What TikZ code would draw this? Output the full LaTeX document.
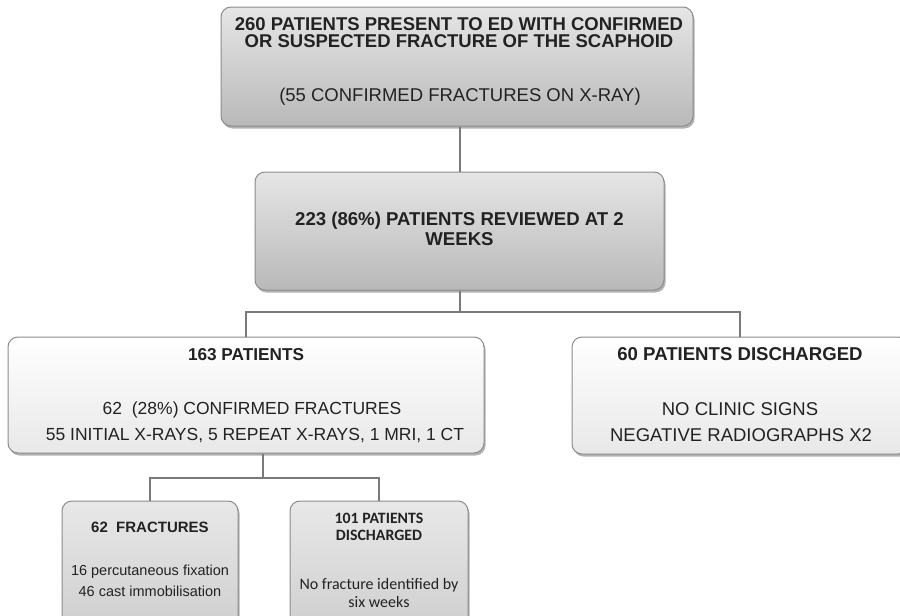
\documentclass[tikz,border=0pt]{standalone}
\usepackage{fontspec}
\setmainfont{Liberation Sans}
\newfontfamily\carl{Carlito}
\usetikzlibrary{shadows}
\definecolor{boxline}{HTML}{8C8C8C}
\definecolor{connc}{HTML}{7A7A7A}
\definecolor{textc}{HTML}{222222}
\begin{document}
\begin{tikzpicture}[x=1pt,y=-1pt,
  box/.style={draw=boxline, line width=1pt, rounded corners=10pt, inner sep=0pt,
    drop shadow={shadow xshift=1.5pt, shadow yshift=-2.5pt, opacity=0.3, fill=black}},
  darkbox/.style={box, top color=gray!20, bottom color=gray!55},
  lightbox/.style={box, top color=white, bottom color=gray!18},
  midbox/.style={box, top color=gray!18, bottom color=gray!38},
  conn/.style={draw=connc, line width=2pt},
  txt/.style={inner sep=0pt, text=textc, align=center},
  hbig/.style={txt, font=\fontsize{18.5}{19}\selectfont\bfseries},
  hmid/.style={txt, font=\fontsize{18.6}{19}\selectfont\bfseries},
  hpat/.style={txt, font=\fontsize{17.2}{18}\selectfont\bfseries},
  rmid/.style={txt, font=\fontsize{18.5}{19}\selectfont},
  rpat/.style={txt, font=\fontsize{17.5}{18}\selectfont},
  hsmall/.style={txt, font=\fontsize{15}{16}\selectfont\bfseries},
  rsmall/.style={txt, font=\fontsize{14.5}{15}\selectfont},
  chead/.style={txt, font=\fontsize{15.8}{16}\selectfont\carl\bfseries},
  cbody/.style={txt, font=\fontsize{16}{19}\selectfont\carl},
]
\useasboundingbox (0,0) rectangle (900,616);
\fill[white] (0,0) rectangle (900,616);

% boxes
\node[darkbox, minimum width=472pt, minimum height=119pt] (top) at (457,66.5) {};
\node[darkbox, minimum width=409pt, minimum height=118pt] (rev) at (459.5,231) {};
\node[lightbox, minimum width=476pt, minimum height=116pt] (pat) at (246,395) {};
\node[lightbox, minimum width=336pt, minimum height=117pt] (dis) at (740,395.5) {};
\node[midbox, minimum width=176pt, minimum height=130pt] (frac) at (150,566) {};
\node[midbox, minimum width=178pt, minimum height=130pt] (dis2) at (379,566) {};

% connectors
\coordinate (j1) at (459.5,312);
\coordinate (j1l) at (246,312);
\coordinate (j1r) at (740,312);
\coordinate (j2) at (263,478);
\coordinate (j2l) at (150,478);
\coordinate (j2r) at (379,478);
\draw[conn] (top.south -| rev.north) -- (rev.north);
\draw[conn] (rev.south) -- (j1);
\draw[conn] (pat.north) -- (j1l) -- (j1r) -- (dis.north);
\draw[conn] (pat.south -| j2) -- (j2);
\draw[conn] (frac.north) -- (j2l) -- (j2r) -- (dis2.north);

% texts
\node[hbig] (t1) at (459,24.5) {260 PATIENTS PRESENT TO ED WITH CONFIRMED};
\node[hbig] (t2) at (459,41.5) {OR SUSPECTED FRACTURE OF THE SCAPHOID};
\node[rmid] (t3) at (460,96.5) {(55 CONFIRMED FRACTURES ON X-RAY)};

\node[hmid] (r1) at (459.5,220.5) {223 (86\%) PATIENTS REVIEWED AT 2};
\node[hmid] (r2) at (459.5,239.5) {WEEKS};

\node[hpat] (p1) at (246,354.5) {163 PATIENTS};
\node[rpat] (p2) at (252,409.5) {62\ \ (28\%) CONFIRMED FRACTURES};
\node[rpat] (p3) at (255,436) {55 INITIAL X-RAYS, 5 REPEAT X-RAYS, 1 MRI,\ 1 CT};

\node[hmid] (d1) at (740,354.5) {60 PATIENTS DISCHARGED};
\node[rmid] (d2) at (740,409.5) {NO CLINIC SIGNS};
\node[rmid] (d3) at (741,435.5) {NEGATIVE RADIOGRAPHS X2};

\node[hsmall] (f1) at (150,527.5) {62\ \ FRACTURES};
\node[rsmall] (f2) at (150,572) {16 percutaneous fixation};
\node[rsmall] (f3) at (150,591) {46 cast immobilisation};

\node[chead] (e1) at (379,518) {101 PATIENTS};
\node[chead] (e2) at (379,535) {DISCHARGED};
\node[cbody] (e3) at (379,585.5) {No fracture identified by};
\node[cbody] (e4) at (379,602) {six weeks};
\end{tikzpicture}
\end{document}
